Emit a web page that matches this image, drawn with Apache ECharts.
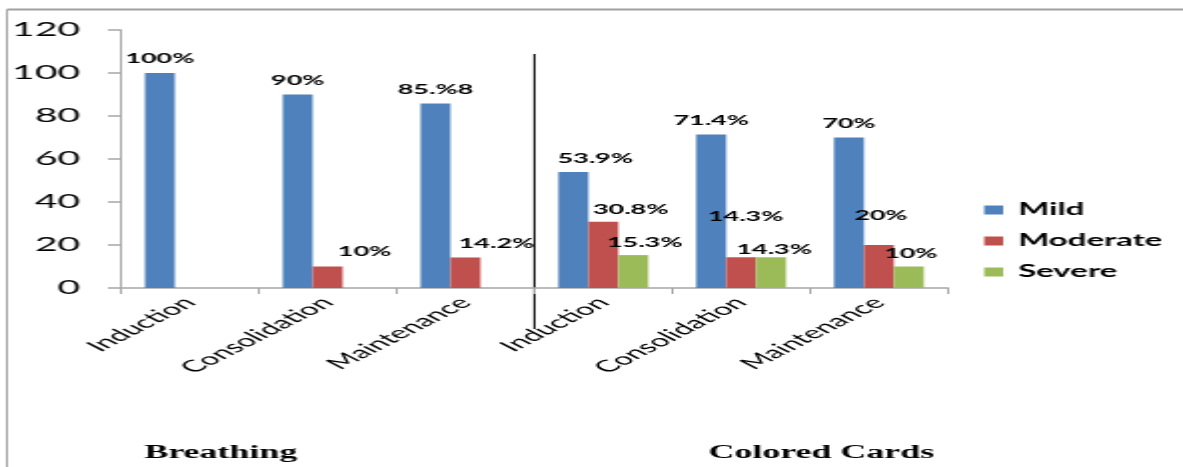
<!DOCTYPE html>
<html>
<head>
<meta charset="utf-8">
<script src="https://cdn.jsdelivr.net/npm/echarts@6/dist/echarts.min.js"></script>
<style>
  html, body { margin: 0; padding: 0; background: #fff; overflow: hidden; }
  /* the chart is laid out narrow and widened 2x, giving its wide lettering */
  #chart { width: 592px; height: 467px; transform: scaleX(1.99831); transform-origin: 0 0; }
</style>
</head>
<body>
<div id="chart"></div>
<script>
// categories along the axis (two blocks of three phases)
const categories = ['Induction', 'Consolidation', 'Maintenance', 'Induction', 'Consolidation', 'Maintenance'];
const groupNames = ['Breathing', 'Colored Cards'];
const seriesNames = ['Mild', 'Moderate', 'Severe'];

// values, percent
const mild     = [100, 90, 85.8, 53.9, 71.4, 70];
const moderate = [null, 10, 14.2, 30.8, 14.3, 20];
const severe   = [null, null, null, 15.3, 14.3, 10];

// printed labels on the bars
const mildText     = ['100%', '90%', '85.%8', '53.9%', '71.4%', '70%'];
const moderateText = [null, '10%', '14.2%', '30.8%', '14.3%', '20%'];
const severeText   = [null, null, null, '15.3%', '14.3%', '10%'];

// value axis range
const yMin = 0, yMax = 120, yStep = 20;

// label nudges [dx, dy] for each bar
const mildNudge     = [[0, 0], [0, 0], [0, 0], [11, 1], [0, 0.5], [0, 0]];
const moderateNudge = [null, [18.5, -0.7], [15.5, 0], [13.75, 1.5], [2.25, -27], [1, -15]];
const severeNudge   = [null, null, null, [5.75, 1.5], [1.5, 6], [1, 1]];

const colors = ['#4F81BD', '#C0504D', '#9BBB59'];
const SANS = 'Lato';

function buildData(values, texts, nudges) {
  return values.map((v, i) => {
    if (v === null) return '-';
    const n = nudges[i] || [0, 0];
    return { value: v, label: { offset: n, formatter: () => texts[i] } };
  });
}

const chart = echarts.init(document.getElementById('chart'), null, { renderer: 'canvas' });

const option = {
  animation: false,
  color: colors,
  grid: { left: 60.5, right: 117.7, top: 30, bottom: 179, containLabel: false },
  legend: {
    orient: 'vertical',
    left: 492.5,
    top: 201.5,
    padding: 0,
    itemWidth: 9.5,
    itemHeight: 9,
    itemGap: 14,
    icon: 'rect',
    data: seriesNames,
    textStyle: { fontFamily: SANS, fontWeight: 'bold', fontSize: 16.5, color: '#000', padding: [0, 0, 0, 2.5] }
  },
  xAxis: {
    type: 'category',
    data: categories,
    axisLine: { show: true, lineStyle: { color: '#a6a6a6', width: 1.5 } },
    axisTick: { show: true, alignWithLabel: false, length: 6, lineStyle: { color: '#a6a6a6', width: 1 } },
    axisLabel: { rotate: 45, margin: 12, fontFamily: SANS, fontSize: 16.5, color: '#000', interval: 0 },
    splitLine: { show: false }
  },
  yAxis: {
    type: 'value',
    min: yMin, max: yMax, interval: yStep,
    axisLine: { show: true, lineStyle: { color: '#a6a6a6', width: 1 } },
    axisTick: { show: true, length: 6.5, lineStyle: { color: '#a6a6a6', width: 1.5 } },
    axisLabel: { margin: 20.5, fontFamily: SANS, fontSize: 19.5, color: '#000' },
    splitLine: { show: false }
  },
  series: [
    [mild, mildText, mildNudge],
    [moderate, moderateText, moderateNudge],
    [severe, severeText, severeNudge]
  ].map((s, k) => ({
    name: seriesNames[k],
    type: 'bar',
    barWidth: 15,
    barGap: '0%',
    data: buildData(s[0], s[1], s[2]),
    label: {
      show: true,
      position: 'top',
      distance: 7,
      fontFamily: SANS,
      fontWeight: 'bold',
      fontSize: 13.5,
      color: '#000'
    }
  }))
};

chart.setOption(option);

// separator between the two blocks, frame and block captions
const cx2 = chart.convertToPixel({ xAxisIndex: 0 }, 2);
const cx3 = chart.convertToPixel({ xAxisIndex: 0 }, 3);
const sepX = (cx2 + cx3) / 2;

chart.setOption({
  graphic: [
    { type: 'line', shape: { x1: sepX, y1: 54, x2: sepX, y2: 329 }, style: { stroke: '#000', lineWidth: 1 }, silent: true },
    { type: 'line', shape: { x1: 3.5, y1: 9.5, x2: 592, y2: 9.5 }, style: { stroke: '#a0a0a0', lineWidth: 2 }, silent: true },
    { type: 'line', shape: { x1: 3.5, y1: 9.5, x2: 3.5, y2: 467 }, style: { stroke: '#a0a0a0', lineWidth: 1 }, silent: true },
    { type: 'text', x: 110.5, y: 453, style: { text: groupNames[0], font: 'bold 18px "Liberation Serif"', fill: '#000', align: 'center', verticalAlign: 'middle' }, silent: true },
    { type: 'text', x: 411, y: 453, style: { text: groupNames[1], font: 'bold 18px "Liberation Serif"', fill: '#000', align: 'center', verticalAlign: 'middle' }, silent: true }
  ]
});
</script>
</body>
</html>
